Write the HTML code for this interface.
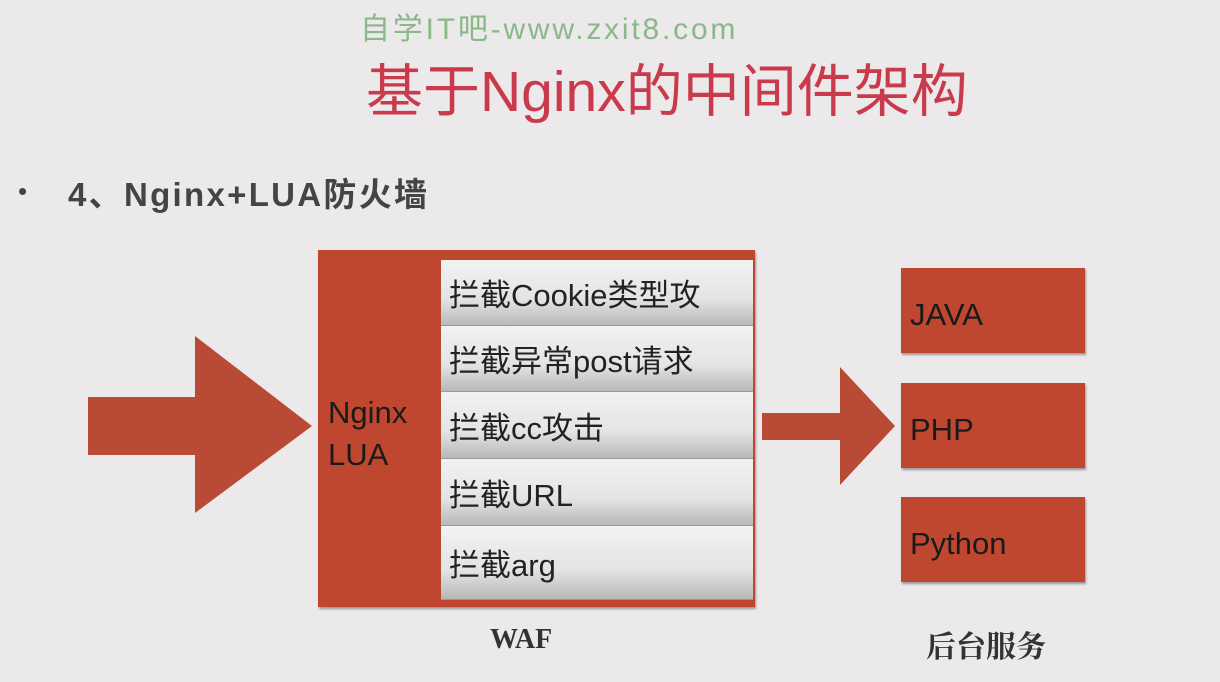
<!DOCTYPE html>
<html><head><meta charset="utf-8"><style>
*{margin:0;padding:0;box-sizing:border-box}
body{width:1220px;height:682px;background:#ebe9ea;position:relative;overflow:hidden;font-family:"Liberation Sans","Noto Sans CJK SC",sans-serif}
.a{position:absolute;white-space:nowrap}
.row{position:absolute;left:441px;width:312px;background:linear-gradient(#f2f2f2,#e4e4e4 60%,#b8b8b8);color:#222;font-size:31px;padding-left:8px;display:flex;align-items:center;border-bottom:1px solid #999}
.box{position:absolute;left:901px;width:184px;height:85px;background:#c0472f;color:#1a1a1a;font-size:31px;padding-left:9px;display:flex;align-items:center;box-shadow:1px 2px 2px #999}
</style></head><body>
<div class="a" style="left:360px;top:4px;font-size:30px;letter-spacing:2.8px;color:#8ab889">自学IT吧-www.zxit8.com</div>
<div class="a" style="left:366px;top:46px;font-size:57px;color:#c93a4c">基于Nginx的中间件架构</div>
<div class="a" style="left:18px;top:176px;font-size:26px;color:#444">•</div>
<div class="a" style="left:68px;top:168px;font-size:33px;color:#444;font-weight:bold;letter-spacing:2.3px">4、Nginx+LUA防火墙</div>
<svg class="a" style="left:0;top:0" width="1220" height="682">
<polygon points="88,397 195,397 195,336 312,426 195,513 195,455 88,455" fill="#b94a35"/>
<polygon points="762,413 840,413 840,367 895,426 840,485 840,440 762,440" fill="#b94a35"/>
</svg>
<div class="a" style="left:318px;top:250px;width:437px;height:357px;background:#c0472f;box-shadow:1px 2px 2px #999"></div>
<div class="a" style="left:328px;top:392px;font-size:31px;color:#1a1a1a;line-height:42px">Nginx<br>LUA</div>
<div class="row" style="top:260px;height:66px">拦截Cookie类型攻</div>
<div class="row" style="top:326px;height:66px">拦截异常post请求</div>
<div class="row" style="top:392px;height:67px">拦截cc攻击</div>
<div class="row" style="top:459px;height:67px">拦截URL</div>
<div class="row" style="top:526px;height:74px">拦截arg</div>
<div class="box" style="top:268px;padding-top:8px">JAVA</div>
<div class="box" style="top:383px;padding-top:8px">PHP</div>
<div class="box" style="top:497px;padding-top:8px">Python</div>
<div class="a" style="left:490px;top:624px;font-size:28px;font-weight:bold;color:#333;font-family:'Liberation Serif','Noto Serif CJK SC',serif">WAF</div>
<div class="a" style="left:926px;top:622px;font-size:30px;font-weight:bold;color:#333;font-family:'Liberation Serif','Noto Serif CJK SC',serif">后台服务</div>
</body></html>
